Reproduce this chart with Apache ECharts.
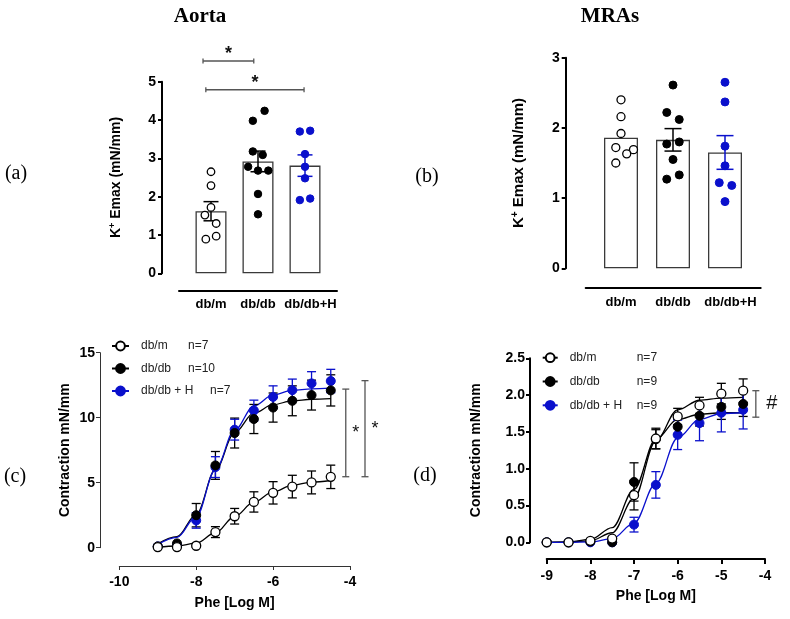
<!DOCTYPE html>
<html><head><meta charset="utf-8">
<script src="https://cdn.jsdelivr.net/npm/echarts@6/dist/echarts.min.js"></script>
<style>html,body{margin:0;padding:0;background:#fff}#chart{width:790px;height:619px}</style>
</head><body><div id="chart"></div>
<script>
// ================= DATA =================
const barCategories = ['db/m', 'db/db', 'db/db+H'];
// (a) Aorta K+ Emax individual values (mN/mm)
const aortaDbm   = [2.65, 2.29, 1.72, 1.52, 1.30, 0.97, 0.89];
const aortaDbdb  = [4.24, 3.98, 3.18, 3.09, 2.78, 2.68, 2.68, 2.07, 1.54];
const aortaDbdbH = [3.70, 3.72, 3.11, 2.78, 2.48, 1.91, 1.95];
const aortaMeans = [1.62, 2.92, 2.81];
const aortaSem   = [0.25, 0.27, 0.28];
const aortaTicks = [0, 1, 2, 3, 4, 5];
// (b) MRAs K+ Emax
const mraDbm   = [2.40, 2.16, 1.92, 1.72, 1.69, 1.63, 1.50];
const mraDbdb  = [2.61, 2.22, 2.12, 1.80, 1.77, 1.55, 1.33, 1.27];
const mraDbdbH = [2.65, 2.37, 1.74, 1.46, 1.22, 1.18, 0.95];
const mraMeans = [1.86, 1.83, 1.65];
const mraSem   = [0, 0.16, 0.24];
const mraTicks = [0, 1, 2, 3];
// significance brackets for (a): [fromCategory, toCategory, height]
const aortaSig = [[-0.17, 0.91, 5.54], [-0.11, 1.98, 4.79]];

// (c), (d) Phe concentration-response
const logPhe = [-9, -8.5, -8, -7.5, -7, -6.5, -6, -5.5, -5, -4.5];
const cTicksX = [-10, -8, -6, -4];
const cTicksY = [0, 5, 10, 15];
const cDbm      = [0.05, 0.05, 0.15, 1.20, 2.42, 3.52, 4.22, 4.70, 5.02, 5.45];
const cDbmErr   = [0, 0, 0.10, 0.42, 0.60, 0.78, 0.86, 0.87, 0.88, 0.90];
const cDbdb     = [0.10, 0.33, 2.50, 6.33, 8.82, 9.90, 10.78, 11.30, 11.74, 12.10];
const cDbdbErr  = [0, 0, 0.90, 1.07, 1.15, 1.12, 1.12, 1.15, 1.15, 1.20];
const cDbdbH    = [0.10, 0.20, 2.10, 6.20, 9.08, 10.55, 11.60, 12.12, 12.64, 12.82];
const cDbdbHErr = [0, 0, 0.60, 0.80, 0.80, 0.80, 0.85, 0.85, 0.90, 0.90];
const cFitDbm   = [0.03, 0.13, 0.35, 1.15, 2.40, 3.50, 4.30, 4.80, 5.05, 5.17];
const cFitDbdb  = [0.30, 0.85, 2.55, 6.00, 8.85, 10.35, 11.00, 11.30, 11.42, 11.47];
const cFitDbdbH = [0.25, 0.80, 2.40, 6.00, 9.05, 10.90, 11.75, 12.10, 12.22, 12.27];
const cN = ['n=7', 'n=10', 'n=7'];
// vertical significance brackets for (c): [x, yLow, yHigh]
const cSig = [[-4.11, 5.46, 12.2], [-3.61, 5.46, 12.85]];

const dTicksX = [-9, -8, -7, -6, -5, -4];
const dTicksY = [0, 0.5, 1.0, 1.5, 2.0, 2.5];
const dDbm      = [0, 0, 0.02, 0.05, 0.64, 1.41, 1.71, 1.86, 2.02, 2.06];
const dDbmErr   = [0, 0, 0, 0.02, 0.20, 0.14, 0.11, 0.11, 0.14, 0.16];
const dDbdb     = [0, 0, 0.01, 0, 0.82, 1.40, 1.57, 1.72, 1.84, 1.88];
const dDbdbErr  = [0, 0, 0, 0, 0.26, 0.13, 0.10, 0.14, 0.17, 0.17];
const dDbdbH    = [0, 0, 0, 0, 0.24, 0.78, 1.46, 1.62, 1.76, 1.80];
const dDbdbHErr = [0, 0, 0, 0, 0.10, 0.18, 0.20, 0.24, 0.26, 0.26];
const dFitDbm   = [0, 0.003, 0.02, 0.13, 0.60, 1.38, 1.80, 1.93, 1.96, 1.97];
const dFitDbdb  = [0, 0.005, 0.04, 0.20, 0.72, 1.40, 1.67, 1.74, 1.76, 1.76];
const dFitDbdbH = [0, 0, 0.005, 0.05, 0.26, 0.80, 1.42, 1.67, 1.75, 1.76];
const dN = ['n=7', 'n=9', 'n=9'];
const dSig = [[-4.21, 1.70, 2.06]];

// ================= LAYOUT / STYLE =================
const SANS = 'Liberation Sans, Arial, sans-serif';
const SERIF = 'Liberation Serif, Times New Roman, serif';
const BLUE = '#0A10CC';
const GREY = '#555';
// horizontal scatter offsets (in category units) for the dot plots
const aortaJitter = [
  [0, 0, 0, -0.13, 0.11, 0.11, -0.11],
  [0.14, -0.11, -0.11, 0.10, -0.21, 0, 0.22, 0, 0],
  [-0.11, 0.11, 0, 0, 0, -0.11, 0.11]
];
const mraJitter = [
  [0, 0, 0, -0.10, 0.24, 0.11, -0.10],
  [0, -0.12, 0.12, 0.12, -0.12, 0, 0.12, -0.12],
  [0, 0, 0, 0, -0.11, 0.13, 0]
];

function pts(vals, cat, jit) { return vals.map((v, i) => [cat + jit[i], v]); }
function xy(xs, ys) { return xs.map((x, i) => [x, ys[i]]); }
function xye(xs, ys, es) { return xs.map((x, i) => [x, ys[i], es[i]]).filter(d => d[2] > 0); }

function errorBars(xi, yi, data, color, cap, lw, z) {
  return {
    type: 'custom', xAxisIndex: xi, yAxisIndex: yi, z: z, silent: true, clip: false,
    data: data,
    renderItem(params, api) {
      const x = api.value(0), y = api.value(1), e = api.value(2);
      const t = api.coord([x, y + e]), b = api.coord([x, y - e]);
      const st = { stroke: color, lineWidth: lw };
      return { type: 'group', children: [
        { type: 'line', shape: { x1: t[0], y1: t[1], x2: b[0], y2: b[1] }, style: st },
        { type: 'line', shape: { x1: t[0] - cap, y1: t[1], x2: t[0] + cap, y2: t[1] }, style: st },
        { type: 'line', shape: { x1: b[0] - cap, y1: b[1], x2: b[0] + cap, y2: b[1] }, style: st }
      ]};
    }
  };
}
function hBrackets(xi, yi, data, label) {
  return {
    type: 'custom', xAxisIndex: xi, yAxisIndex: yi, z: 6, silent: true, clip: false,
    data: data,
    renderItem(params, api) {
      const a = api.coord([api.value(0), api.value(2)]);
      const b = api.coord([api.value(1), api.value(2)]);
      const st = { stroke: GREY, lineWidth: 1.3 };
      return { type: 'group', children: [
        { type: 'line', shape: { x1: a[0], y1: a[1], x2: b[0], y2: b[1] }, style: st },
        { type: 'line', shape: { x1: a[0], y1: a[1] - 2.5, x2: a[0], y2: a[1] + 2.5 }, style: st },
        { type: 'line', shape: { x1: b[0], y1: b[1] - 2.5, x2: b[0], y2: b[1] + 2.5 }, style: st },
        { type: 'text', x: (a[0] + b[0]) / 2, y: a[1] - 7, style: { text: label, fill: '#111',
          font: 'bold 18px ' + SANS, align: 'center', verticalAlign: 'middle' } }
      ]};
    }
  };
}
function vBrackets(xi, yi, data, label, font, dx) {
  return {
    type: 'custom', xAxisIndex: xi, yAxisIndex: yi, z: 6, silent: true, clip: false,
    data: data,
    renderItem(params, api) {
      const a = api.coord([api.value(0), api.value(1)]);
      const b = api.coord([api.value(0), api.value(2)]);
      const st = { stroke: GREY, lineWidth: 1.3 };
      return { type: 'group', children: [
        { type: 'line', shape: { x1: a[0], y1: a[1], x2: b[0], y2: b[1] }, style: st },
        { type: 'line', shape: { x1: a[0] - 3.5, y1: a[1], x2: a[0] + 3.5, y2: a[1] }, style: st },
        { type: 'line', shape: { x1: b[0] - 3.5, y1: b[1], x2: b[0] + 3.5, y2: b[1] }, style: st },
        { type: 'text', x: a[0] + dx, y: (a[1] + b[1]) / 2, style: { text: label, fill: '#111',
          font: font, align: 'center', verticalAlign: 'middle' } }
      ]};
    }
  };
}

const openItem = { color: '#fff', borderColor: '#000', borderWidth: 1.3, opacity: 1 };
const blackItem = { color: '#000', borderColor: '#000', borderWidth: 1, opacity: 1 };
const blueItem = { color: BLUE, borderColor: BLUE, borderWidth: 1, opacity: 1 };

const yNameRich = {
  k: { fontSize: 14, fontWeight: 'bold', fontFamily: SANS, color: '#000', lineHeight: 16 },
  s: { fontSize: 9, fontWeight: 'bold', fontFamily: SANS, color: '#000', verticalAlign: 'top', lineHeight: 10 }
};
const yNameRichB = {
  k: { fontSize: 15, fontWeight: 'bold', fontFamily: SANS, color: '#000', lineHeight: 17 },
  s: { fontSize: 10, fontWeight: 'bold', fontFamily: SANS, color: '#000', verticalAlign: 'top', lineHeight: 10 }
};

function barYAxis(grid, ticks, offset, gap, rich) {
  return {
    type: 'value', gridIndex: grid, min: ticks[0], max: ticks[ticks.length - 1],
    interval: ticks[1] - ticks[0], offset: offset,
    axisLine: { show: true, onZero: false, lineStyle: { color: '#000', width: 2 } },
    axisTick: { show: true, length: 4, lineStyle: { color: '#000', width: 2 } },
    axisLabel: { fontFamily: SANS, fontWeight: 'bold', fontSize: 14, color: '#000', margin: 6 },
    splitLine: { show: false },
    name: '{k|K}{s|+}{k| Emax (mN/mm)}', nameLocation: 'middle', nameRotate: 90, nameGap: gap,
    nameTextStyle: { rich: rich }
  };
}

const legendText = { fontFamily: SANS, fontSize: 12, color: '#222' };
const legendNamesC = { c_dbm: ['db/m', cN[0], 'w47'], c_dbdb: ['db/db', cN[1], 'w47'], c_dbdbH: ['db/db + H', cN[2], 'w69'] };
const legendNamesD = { d_dbm: ['db/m', dN[0], 'w67'], d_dbdb: ['db/db', dN[1], 'w67'], d_dbdbH: ['db/db + H', dN[2], 'w67'] };
const legendRich = {
  w47: { width: 47, padding: [0, 0, 0, 7], lineHeight: 12, fontFamily: SANS, fontSize: 12, color: '#222' },
  w69: { width: 69, padding: [0, 0, 0, 7], lineHeight: 12, fontFamily: SANS, fontSize: 12, color: '#222' },
  w67: { width: 67, padding: [0, 0, 0, 7], lineHeight: 12, fontFamily: SANS, fontSize: 12, color: '#222' },
  n: { lineHeight: 12, fontFamily: SANS, fontSize: 12, color: '#222' }
};

function curve(name, xi, yi, ys, item, lineColor) {
  return {
    name: name, type: 'line', xAxisIndex: xi, yAxisIndex: yi, data: xy(logPhe, ys),
    showSymbol: false, symbol: 'circle', symbolSize: 9, smooth: 0.35, smoothMonotone: 'x',
    itemStyle: item, lineStyle: { color: lineColor, width: 1.3 }, z: 2, silent: true
  };
}
function scat(xi, yi, ys, item, z, size) {
  return { type: 'scatter', xAxisIndex: xi, yAxisIndex: yi, data: xy(logPhe, ys),
    symbol: 'circle', symbolSize: size, itemStyle: item, z: z, silent: true };
}
const catLabel = { fontFamily: SANS, fontWeight: 'bold', fontSize: 13, color: '#000', interval: 0,
  formatter: (v, i) => i === 2 ? '{p|' + v + '}' : v,
  rich: { p: { fontFamily: SANS, fontWeight: 'bold', fontSize: 13, color: '#000', padding: [0, 0, 0, 11] } } };

const chart = echarts.init(document.getElementById('chart'), null, { renderer: 'canvas' });
chart.setOption({
  animation: false,
  backgroundColor: '#fff',
  grid: [
    { left: 187.5, top: 81.7, width: 141, height: 191.6 },   // 0 a data
    { left: 179, top: 81.7, width: 158, height: 191.6 },     // 1 a baseline
    { left: 595, top: 57.7, width: 156, height: 210.6 },     // 2 b data
    { left: 585.7, top: 57.7, width: 175, height: 210.6 },   // 3 b baseline
    { left: 119.3, top: 352.7, width: 230.7, height: 195 },  // 4 c
    { left: 546.7, top: 358.3, width: 218.3, height: 184 }   // 5 d
  ],
  xAxis: [
    { type: 'value', gridIndex: 0, min: -0.5, max: 2.5, show: false, position: 'top' },
    { type: 'category', gridIndex: 0, data: barCategories, position: 'bottom', offset: 17,
      axisLine: { show: false }, axisTick: { show: false },
      axisLabel: Object.assign({ margin: 8 }, catLabel) },
    { type: 'value', gridIndex: 1, min: 0, max: 1, offset: 17,
      axisLine: { show: true, onZero: false, lineStyle: { color: '#000', width: 2 } },
      axisTick: { show: false }, axisLabel: { show: false }, splitLine: { show: false } },
    { type: 'value', gridIndex: 2, min: -0.5, max: 2.5, show: false, position: 'top' },
    { type: 'category', gridIndex: 2, data: barCategories, position: 'bottom', offset: 19,
      axisLine: { show: false }, axisTick: { show: false },
      axisLabel: Object.assign({ margin: 9 }, catLabel) },
    { type: 'value', gridIndex: 3, min: 0, max: 1, offset: 19,
      axisLine: { show: true, onZero: false, lineStyle: { color: '#000', width: 2 } },
      axisTick: { show: false }, axisLabel: { show: false }, splitLine: { show: false } },
    { type: 'value', gridIndex: 4, min: cTicksX[0], max: cTicksX[cTicksX.length - 1],
      interval: cTicksX[1] - cTicksX[0], offset: 18.3,
      axisLine: { show: true, onZero: false, lineStyle: { color: '#333', width: 1 } },
      axisTick: { show: true, length: 4, lineStyle: { color: '#333', width: 1 } },
      axisLabel: { fontFamily: SANS, fontWeight: 'bold', fontSize: 14, color: '#000', margin: 9 },
      splitLine: { show: false },
      name: 'Phe [Log M]', nameLocation: 'middle', nameGap: 30,
      nameTextStyle: { fontFamily: SANS, fontWeight: 'bold', fontSize: 14, color: '#000' } },
    { type: 'value', gridIndex: 5, min: dTicksX[0], max: dTicksX[dTicksX.length - 1],
      interval: dTicksX[1] - dTicksX[0], offset: 16.7,
      axisLine: { show: true, onZero: false, lineStyle: { color: '#000', width: 2 } },
      axisTick: { show: true, length: 5, lineStyle: { color: '#000', width: 2 } },
      axisLabel: { fontFamily: SANS, fontWeight: 'bold', fontSize: 14, color: '#000', margin: 10 },
      splitLine: { show: false },
      name: 'Phe [Log M]', nameLocation: 'middle', nameGap: 30,
      nameTextStyle: { fontFamily: SANS, fontWeight: 'bold', fontSize: 14, color: '#000' } }
  ],
  yAxis: [
    barYAxis(0, aortaTicks, 25.5, 38, yNameRich),
    { type: 'value', gridIndex: 1, min: 0, max: 1, show: false },
    barYAxis(2, mraTicks, 29.3, 38, yNameRichB),
    { type: 'value', gridIndex: 3, min: 0, max: 1, show: false },
    { type: 'value', gridIndex: 4, min: cTicksY[0], max: cTicksY[cTicksY.length - 1],
      interval: cTicksY[1] - cTicksY[0], offset: 19.3,
      axisLine: { show: true, onZero: false, lineStyle: { color: '#333', width: 1 } },
      axisTick: { show: true, length: 4, lineStyle: { color: '#333', width: 1 } },
      axisLabel: { fontFamily: SANS, fontWeight: 'bold', fontSize: 14, color: '#000', margin: 5 },
      splitLine: { show: false },
      name: 'Contraction mN/mm', nameLocation: 'middle', nameRotate: 90, nameGap: 28,
      nameTextStyle: { fontFamily: SANS, fontWeight: 'bold', fontSize: 14, color: '#000' } },
    { type: 'value', gridIndex: 5, min: dTicksY[0], max: dTicksY[dTicksY.length - 1],
      interval: dTicksY[1] - dTicksY[0], offset: 16.7,
      axisLine: { show: true, onZero: false, lineStyle: { color: '#000', width: 2 } },
      axisTick: { show: true, length: 4, lineStyle: { color: '#000', width: 2 } },
      axisLabel: { fontFamily: SANS, fontWeight: 'bold', fontSize: 14, color: '#000', margin: 5,
        formatter: v => v.toFixed(1) },
      splitLine: { show: false },
      name: 'Contraction mN/mm', nameLocation: 'middle', nameRotate: 90, nameGap: 47,
      nameTextStyle: { fontFamily: SANS, fontWeight: 'bold', fontSize: 14, color: '#000' } }
  ],
  legend: [
    { left: 106, top: 335, orient: 'vertical', itemWidth: 17, itemHeight: 11, itemGap: 10.5,
      selectedMode: false, data: ['c_dbm', 'c_dbdb', 'c_dbdbH'],
      formatter: n => '{' + legendNamesC[n][2] + '|' + legendNamesC[n][0] + '}{n|' + legendNamesC[n][1] + '}',
      textStyle: Object.assign({ rich: legendRich }, legendText) },
    { left: 536.7, top: 346.7, orient: 'vertical', itemWidth: 15, itemHeight: 11, itemGap: 11.8,
      selectedMode: false, data: ['d_dbm', 'd_dbdb', 'd_dbdbH'],
      formatter: n => '{' + legendNamesD[n][2] + '|' + legendNamesD[n][0] + '}{n|' + legendNamesD[n][1] + '}',
      textStyle: Object.assign({ rich: legendRich }, legendText) }
  ],
  graphic: [
    { type: 'text', x: 200, y: 17, style: { text: 'Aorta', font: 'bold 21px ' + SERIF, fill: '#000', align: 'center', verticalAlign: 'middle' } },
    { type: 'text', x: 610, y: 17, style: { text: 'MRAs', font: 'bold 21px ' + SERIF, fill: '#000', align: 'center', verticalAlign: 'middle' } },
    { type: 'text', x: 16, y: 174, style: { text: '(a)', font: '20px ' + SERIF, fill: '#000', align: 'center', verticalAlign: 'middle' } },
    { type: 'text', x: 427, y: 177, style: { text: '(b)', font: '20px ' + SERIF, fill: '#000', align: 'center', verticalAlign: 'middle' } },
    { type: 'text', x: 15, y: 477, style: { text: '(c)', font: '20px ' + SERIF, fill: '#000', align: 'center', verticalAlign: 'middle' } },
    { type: 'text', x: 425, y: 476, style: { text: '(d)', font: '20px ' + SERIF, fill: '#000', align: 'center', verticalAlign: 'middle' } }
  ],
  series: [
    // ---- (a) ----
    { type: 'bar', xAxisIndex: 0, yAxisIndex: 0, barWidth: 31, z: 2, silent: true,
      data: aortaMeans.map((v, i) => [i, v]),
      itemStyle: { color: '#fff', borderColor: '#3a3a3a', borderWidth: 1.3 } },
    errorBars(0, 0, [[0, aortaMeans[0], aortaSem[0]], [1, aortaMeans[1], aortaSem[1]]], '#000', 7.5, 1.5, 3),
    errorBars(0, 0, [[2, aortaMeans[2], aortaSem[2]]], BLUE, 7.5, 1.5, 3),
    { type: 'scatter', xAxisIndex: 0, yAxisIndex: 0, data: pts(aortaDbm, 0, aortaJitter[0]), symbolSize: 7.5, itemStyle: openItem, z: 4, silent: true },
    { type: 'scatter', xAxisIndex: 0, yAxisIndex: 0, data: pts(aortaDbdb, 1, aortaJitter[1]), symbolSize: 7.5, itemStyle: blackItem, z: 4, silent: true },
    { type: 'scatter', xAxisIndex: 0, yAxisIndex: 0, data: pts(aortaDbdbH, 2, aortaJitter[2]), symbolSize: 7.5, itemStyle: blueItem, z: 4, silent: true },
    hBrackets(0, 0, aortaSig, '*'),
    // ---- (b) ----
    { type: 'bar', xAxisIndex: 3, yAxisIndex: 2, barWidth: 34, z: 2, silent: true,
      data: mraMeans.map((v, i) => [i, v]),
      itemStyle: { color: '#fff', borderColor: '#3a3a3a', borderWidth: 1.3 } },
    errorBars(3, 2, [[1, mraMeans[1], mraSem[1]]], '#000', 8.5, 1.5, 3),
    errorBars(3, 2, [[2, mraMeans[2], mraSem[2]]], BLUE, 8.5, 1.5, 3),
    { type: 'scatter', xAxisIndex: 3, yAxisIndex: 2, data: pts(mraDbm, 0, mraJitter[0]), symbolSize: 8, itemStyle: openItem, z: 4, silent: true },
    { type: 'scatter', xAxisIndex: 3, yAxisIndex: 2, data: pts(mraDbdb, 1, mraJitter[1]), symbolSize: 8, itemStyle: blackItem, z: 4, silent: true },
    { type: 'scatter', xAxisIndex: 3, yAxisIndex: 2, data: pts(mraDbdbH, 2, mraJitter[2]), symbolSize: 8, itemStyle: blueItem, z: 4, silent: true },
    // ---- (c) ----
    curve('c_dbm', 6, 4, cFitDbm, openItem, '#000'),
    curve('c_dbdb', 6, 4, cFitDbdb, blackItem, '#000'),
    curve('c_dbdbH', 6, 4, cFitDbdbH, blueItem, BLUE),
    errorBars(6, 4, xye(logPhe, cDbm, cDbmErr), '#000', 4.5, 1.3, 3),
    errorBars(6, 4, xye(logPhe, cDbdb, cDbdbErr), '#000', 4.5, 1.3, 3),
    errorBars(6, 4, xye(logPhe, cDbdbH, cDbdbHErr), BLUE, 4.5, 1.3, 3),
    scat(6, 4, cDbdbH, blueItem, 4, 9),
    scat(6, 4, cDbdb, blackItem, 5, 9),
    scat(6, 4, cDbm, openItem, 6, 9),
    vBrackets(6, 4, cSig, '*', '18px ' + SANS, 10),
    // ---- (d) ----
    curve('d_dbm', 7, 5, dFitDbm, openItem, '#000'),
    curve('d_dbdb', 7, 5, dFitDbdb, blackItem, '#000'),
    curve('d_dbdbH', 7, 5, dFitDbdbH, blueItem, BLUE),
    errorBars(7, 5, xye(logPhe, dDbm, dDbmErr), '#000', 4.5, 1.3, 3),
    errorBars(7, 5, xye(logPhe, dDbdb, dDbdbErr), '#000', 4.5, 1.3, 3),
    errorBars(7, 5, xye(logPhe, dDbdbH, dDbdbHErr), BLUE, 4.5, 1.3, 3),
    scat(7, 5, dDbdbH, blueItem, 4, 9),
    scat(7, 5, dDbdb, blackItem, 5, 9),
    scat(7, 5, dDbm, openItem, 6, 9),
    vBrackets(7, 5, dSig, '#', '20px ' + SANS, 16)
  ]
});
</script></body></html>
